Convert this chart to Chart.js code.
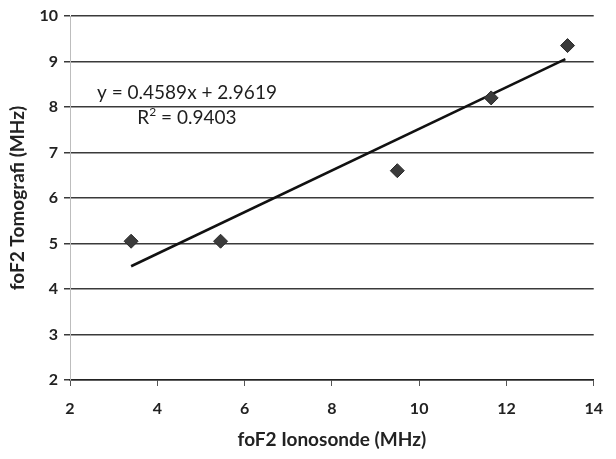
<!DOCTYPE html>
<html lang="id">
<head>
  <meta charset="UTF-8" />
  <title>foF2 Tomografi vs Ionosonde</title>
  <script src="https://cdn.jsdelivr.net/npm/chart.js"></script>
  <style>
    html, body { margin: 0; padding: 0; background: #fff; }
    #wrap { width: 616px; height: 459px; }
  </style>
</head>
<body>
  <div id="wrap"><canvas id="grafik"></canvas></div>

  <script>
    // data
    const ionosonde = [3.4, 5.45, 9.5, 11.65, 13.4];
    const tomografi = [5.05, 5.05, 6.6, 8.2, 9.35];
    const trendX = [3.4, 13.35];
    const trendY = [4.5, 9.05];
    const xTicks = [2, 4, 6, 8, 10, 12, 14];
    const yTicks = [2, 3, 4, 5, 6, 7, 8, 9, 10];
    const equation = ["y = 0.4589x + 2.9619", "R", "2", " = 0.9403"];

    // texte de l'équation, placé en coordonnées de données
    const eqPlugin = {
      id: "equation",
      afterDatasetsDraw(chart) {
        const ctx = chart.ctx;
        const xs = chart.scales.x, ys = chart.scales.y;
        const cx = xs.getPixelForValue(4.68);
        ctx.save();
        ctx.fillStyle = "#1e1e1e";
        ctx.font = "19px Lato";
        ctx.textBaseline = "middle";
        ctx.textAlign = "center";
        ctx.fillText(equation[0], cx, ys.getPixelForValue(8.31));
        // R² avec exposant
        const y2 = ys.getPixelForValue(7.76);
        const wR = ctx.measureText(equation[1]).width;
        const wRest = ctx.measureText(equation[3]).width;
        ctx.font = "12px Lato";
        const wSup = ctx.measureText(equation[2]).width;
        const x0 = cx - (wR + wSup + wRest) / 2;
        ctx.textAlign = "left";
        ctx.font = "19px Lato";
        ctx.fillText(equation[1], x0, y2);
        ctx.fillText(equation[3], x0 + wR + wSup, y2);
        ctx.font = "12px Lato";
        ctx.fillText(equation[2], x0 + wR, y2 - 6);
        ctx.restore();
      }
    };

    new Chart(document.getElementById("grafik"), {
      type: "scatter",
      data: {
        datasets: [
          {
            label: "data",
            data: ionosonde.map((x, i) => ({ x: x, y: tomografi[i] })),
            pointStyle: "rectRot",
            pointRadius: 7,
            backgroundColor: "#3b3b3b",
            borderColor: "#2a2a2a",
            borderWidth: 1
          },
          {
            label: "trend",
            type: "line",
            data: trendX.map((x, i) => ({ x: x, y: trendY[i] })),
            borderColor: "#111",
            borderWidth: 2.5,
            pointRadius: 0,
            fill: false
          }
        ]
      },
      options: {
        responsive: true,
        maintainAspectRatio: false,
        animation: false,
        layout: { padding: { left: 6, right: 13, top: 16, bottom: 8 } },
        plugins: { legend: { display: false }, tooltip: { enabled: false } },
        scales: {
          x: {
            type: "linear",
            min: 2, max: 14,
            afterBuildTicks: s => { s.ticks = xTicks.map(v => ({ value: v })); },
            afterFit: s => { s.height = 71; },
            grid: { drawOnChartArea: false, drawTicks: true, tickLength: 6, color: "#555", lineWidth: 1 },
            border: { display: true, color: "#222", width: 1.5 },
            ticks: { color: "#222", font: { family: "Lato", size: 16, weight: "bold" }, padding: 13, maxRotation: 0 },
            title: { display: true, text: "foF2 Ionosonde (MHz)", color: "#222", font: { family: "Lato", size: 19, weight: "bold" }, padding: { top: 0, bottom: 0 } }
          },
          y: {
            type: "linear",
            min: 2, max: 10,
            afterBuildTicks: s => { s.ticks = yTicks.map(v => ({ value: v })); },
            afterFit: s => { s.width = 64; },
            grid: { color: "#3a3a3a", lineWidth: 1.5, drawTicks: true, tickLength: 6 },
            border: { display: true, color: "#bdbdbd", width: 1 },
            ticks: { color: "#222", font: { family: "Lato", size: 16, weight: "bold" }, padding: 6 },
            title: { display: true, text: "foF2 Tomografi (MHz)", color: "#222", font: { family: "Lato", size: 19, weight: "bold" }, padding: { top: 0, bottom: 0 } }
          }
        }
      },
      plugins: [eqPlugin]
    });
  </script>
</body>
</html>
